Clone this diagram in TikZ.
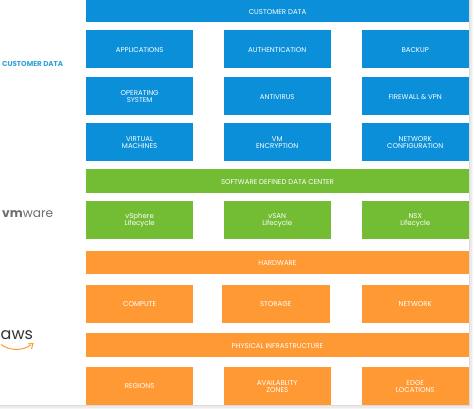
\documentclass[tikz,border=0pt]{standalone}
\usepackage{fontspec}
\setmainfont{Poppins}
\definecolor{cblue}{HTML}{0A8FD8}
\definecolor{cgreen}{HTML}{73BD35}
\definecolor{corange}{HTML}{FF9933}
\definecolor{clabel}{HTML}{2E9FDC}
\definecolor{cgrey}{HTML}{6D6E71}
\definecolor{cdark}{HTML}{30353B}
\tikzset{
  x=1pt,y=-1pt,
  tile/.style={inner sep=0pt,outer sep=0pt,text=white,align=center,font=\fontsize{7}{7.7}\selectfont},
  bluetile/.style={tile,fill=cblue},
  greentile/.style={tile,fill=cgreen},
  orangetile/.style={tile,fill=corange},
  sidelabel/.style={inner sep=0pt,anchor=west}
}
% name, x0, y0, x1, y1, style, text
\newcommand{\tilebox}[7]{%
  \path[#6] (#2,#3) rectangle (#4,#5);
  \node[tile,minimum width=#4pt-#2pt,minimum height=#5pt-#3pt] (#1) at ({(#2+#4)/2},{(#3+#5)/2+0.7}) {#7};
}
\begin{document}
\begin{tikzpicture}
\useasboundingbox (0,0) rectangle (474,409);
\fill[white] (0,0) rectangle (474,409);
% soft shadow on the right and bottom of the panel
\fill[black!4] (0,405) rectangle (473,409);
\fill[black!8] (0,405) rectangle (471.5,407.5);
\fill[black!14] (0,405) rectangle (470,406);
\fill[black!4] (469,0) rectangle (473,409);
\fill[black!8] (469,0) rectangle (471.5,407.5);
\fill[black!14] (469,0) rectangle (470,406);
\fill[white] (0,0) rectangle (469,405);

\tilebox{top}{86}{0}{469}{22.5}{bluetile}{CUSTOMER DATA}
\tilebox{apps}{86}{30.5}{193.3}{68.5}{bluetile}{APPLICATIONS}
\tilebox{auth}{223.5}{30.5}{331}{68.5}{bluetile}{AUTHENTICATION}
\tilebox{backup}{361.5}{30.5}{469}{68.5}{bluetile}{BACKUP}
\tilebox{os}{86}{77}{193.3}{115}{bluetile}{OPERATING\\SYSTEM}
\tilebox{av}{223.5}{77}{331}{115}{bluetile}{ANTIVIRUS}
\tilebox{fw}{361.5}{77}{469}{115}{bluetile}{FIREWALL \& VPN}
\tilebox{vms}{86}{123}{193.3}{161}{bluetile}{VIRTUAL\\MACHINES}
\tilebox{enc}{223.5}{123}{331}{161}{bluetile}{VM\\ENCRYPTION}
\tilebox{netcfg}{361.5}{123}{469}{161}{bluetile}{NETWORK\\CONFIGURATION}

\tilebox{sddc}{86}{169.3}{469}{193}{greentile}{SOFTWARE DEFINED DATA CENTER}
\tilebox{vsphere}{86}{200.5}{193.3}{238.7}{greentile}{vSphere\\Lifecycle}
\tilebox{vsan}{223.5}{200.5}{331}{238.7}{greentile}{vSAN\\Lifecycle}
\tilebox{nsx}{361.5}{200.5}{469}{238.7}{greentile}{NSX\\Lifecycle}

\tilebox{hw}{86}{250.7}{469}{274}{orangetile}{HARDWARE}
\tilebox{compute}{86}{284.7}{193.3}{322.7}{orangetile}{COMPUTE}
\tilebox{storage}{222}{284.7}{329.5}{322.7}{orangetile}{STORAGE}
\tilebox{network}{361.5}{284.7}{469}{322.7}{orangetile}{NETWORK}
\tilebox{phys}{86}{333.3}{469}{356.7}{orangetile}{PHYSICAL INFRASTRUCTURE}
\tilebox{regions}{86}{366.7}{193.3}{405}{orangetile}{REGIONS}
\tilebox{zones}{223.5}{366.7}{331}{405}{orangetile}{AVAILABLITY\\ZONES}
\tilebox{edge}{361.5}{366.7}{469}{405}{orangetile}{EDGE\\LOCATIONS}

\node[sidelabel,text=clabel,font=\fontsize{7.1}{8}\selectfont\bfseries] (lblcustomer) at (2,63.5) {CUSTOMER DATA};
\node[sidelabel,text=cgrey,font=\fontsize{12.2}{13}\selectfont] (lblvmware) at (2,214) {\textbf{vm}ware};
\node[sidelabel,text=cdark,font=\fontsize{16}{17}\selectfont] (lblaws) at (0.5,335.5) {aws};
\coordinate (smileA) at (1,344.5);
\coordinate (smileB) at (31,345);
\draw[corange,line width=1pt] (smileA) .. controls (10,351) and (22,351) .. (smileB);
\draw[corange,line width=1pt] (28,344) -- (33,343.5) -- (31.5,349);
\end{tikzpicture}
\end{document}
